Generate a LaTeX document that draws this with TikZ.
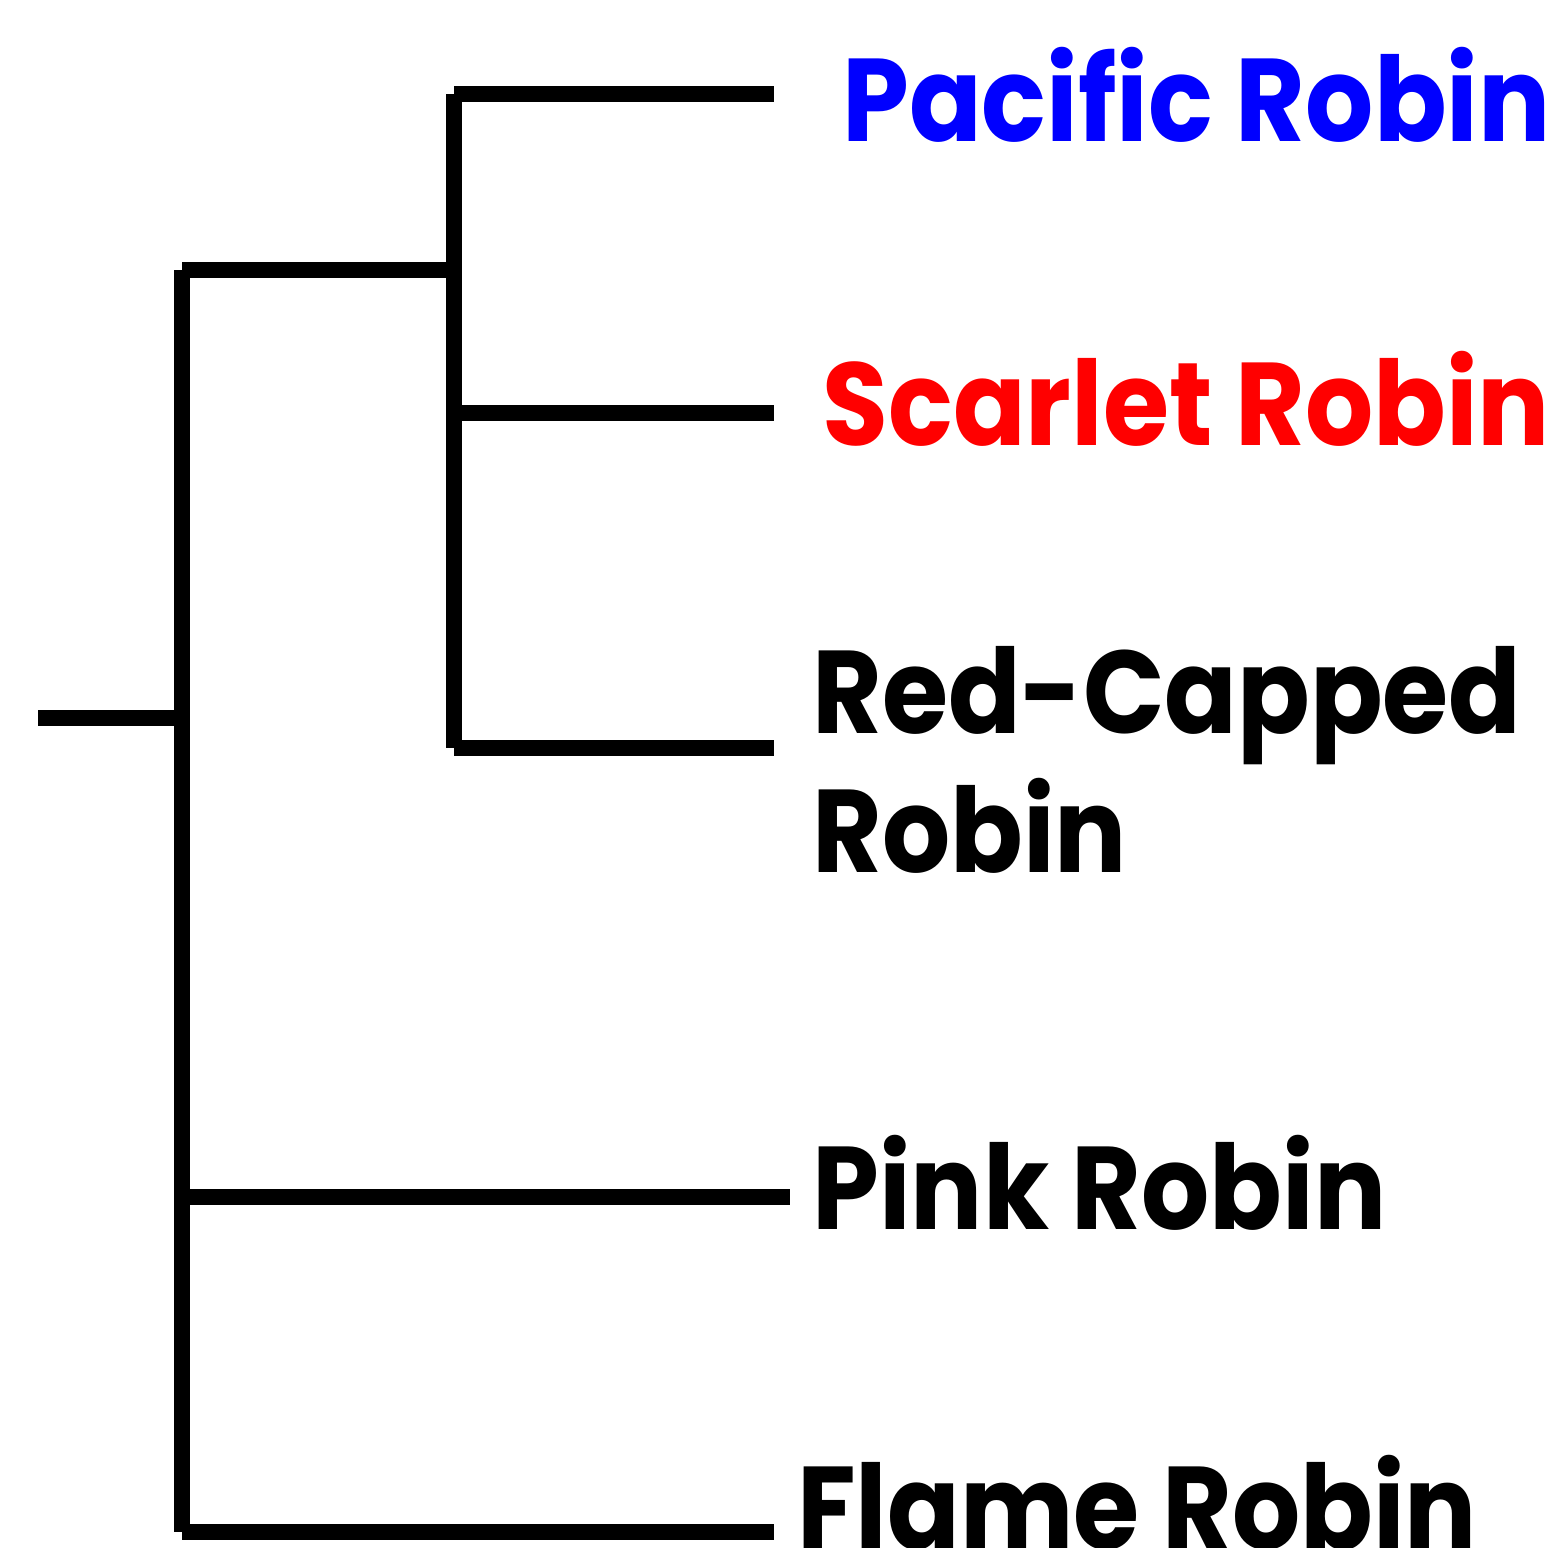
\documentclass[tikz,border=0pt]{standalone}
\usepackage{fontspec}
\setmainfont{Poppins}[BoldFont={* Bold}, BoldFeatures={FakeStretch=0.91}]
\usetikzlibrary{positioning}

\tikzset{
  branch/.style={line width=16*0.02cm, line cap=butt},
  taxon/.style={anchor=base west, inner sep=0pt, font=\fontsize{67}{79}\selectfont\bfseries, align=left}
}

\begin{document}
\begin{tikzpicture}[x=0.02cm, y=-0.02cm]
  \useasboundingbox (0,0) rectangle (1562,1548);
  % Defining the junctions
  \coordinate (root) at (38,718);
  \coordinate (n1) at (182,718);
  \coordinate (n1top) at (182,270);
  \coordinate (n1bot) at (182,1532);
  \coordinate (n2) at (454,270);
  \coordinate (n2top) at (454,94);
  \coordinate (n2bot) at (454,748);
  % Tips
  \coordinate (pac) at (774,94);
  \coordinate (sca) at (774,413);
  \coordinate (red) at (774,748);
  \coordinate (pin) at (790,1197);
  \coordinate (fla) at (774,1532);

  % Branches
  \draw[branch] (root) -- (n1);
  \draw[branch] (n1top) -- (n1bot);
  \draw[branch] (n1top) -- (n2);
  \draw[branch] (n1 |- pin) -- (pin);
  \draw[branch] (n1bot) -- (fla);
  \draw[branch] (n2top) -- (n2bot);
  \draw[branch] (n2top) -- (pac);
  \draw[branch] (n2 |- sca) -- (sca);
  \draw[branch] (n2bot) -- (red);

  % Labels
  \node[taxon, text={rgb,255:red,0;green,0;blue,255}] (lpac) at (842,141) {Pacific Robin};
  \node[taxon, text={rgb,255:red,255;green,0;blue,0}] (lsca) at (822,445) {Scarlet Robin};
  % base of a two-line node is its last line
  \node[taxon] (lred) at (812,872) {Red-Capped\\Robin};
  \node[taxon] (lpin) at (812,1229) {Pink Robin};
  \node[taxon] (lfla) at (797,1549) {Flame Robin};
\end{tikzpicture}
\end{document}
